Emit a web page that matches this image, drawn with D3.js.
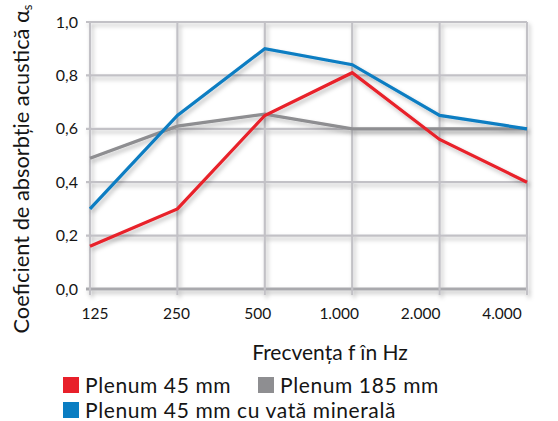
<!DOCTYPE html>
<html><head><meta charset="utf-8">
<script src="https://cdn.jsdelivr.net/npm/d3@7/dist/d3.min.js"></script>
<style>body{margin:0;background:#fff}svg{display:block}text{font-family:Lato,"Noto Sans",sans-serif;fill:#151515}</style>
</head><body>
<svg id="c" width="558" height="421"></svg>
<script>
const categories = ["125","250","500","1.000","2.000","4.000"];
const yTicks = [0,0.2,0.4,0.6,0.8,1.0];
const plenum45 = [0.16,0.30,0.65,0.81,0.56,0.40];
const plenum185 = [0.49,0.61,0.655,0.60,0.60,0.60];
const plenum45Vata = [0.30,0.65,0.90,0.84,0.65,0.60];
const seriesNames = ["Plenum 45 mm","Plenum 185 mm","Plenum 45 mm cu vată minerală"];
const colors = ["#e8202a","#8e8e91","#0a7dc2"];

const svg = d3.select("#c");
const defs = svg.append("defs");
const f = defs.append("filter").attr("id","sh").attr("x","-10%").attr("y","-10%").attr("width","130%").attr("height","140%");
f.append("feDropShadow").attr("dx",2).attr("dy",3).attr("stdDeviation",2).attr("flood-color","#000").attr("flood-opacity",0.25);

const x = d3.scalePoint().domain(categories).range([90,527]);
const xl = d3.scalePoint().domain(categories).range([95,502]);
const y = d3.scaleLinear().domain([0,1]).range([289,22]);

const grid = svg.append("g").attr("filter","url(#sh)");
grid.selectAll(".h").data(yTicks).join("line")
  .attr("x1",86).attr("x2",527).attr("y1",d=>y(d)).attr("y2",d=>y(d))
  .attr("stroke",d=>d===0?"#a9a9ad":"#c2c1c6").attr("stroke-width",d=>d===0?3:2.2);
grid.selectAll(".v").data(categories).join("line")
  .attr("x1",d=>x(d)).attr("x2",d=>x(d)).attr("y1",22).attr("y2",295)
  .attr("stroke","#c2c1c6").attr("stroke-width",2.2);

svg.append("g").selectAll("text").data(yTicks).join("text")
  .attr("x",78).attr("y",d=>y(d)).attr("dy","0.35em").attr("text-anchor","end")
  .attr("font-size",16).text(d=>d3.format(".1f")(d).replace(".",","));

svg.append("g").selectAll("text").data(categories).join("text")
  .attr("x",d=>xl(d)).attr("y",319).attr("text-anchor","middle")
  .attr("font-size",15.5).text(d=>d);

const line = d3.line().x((d,i)=>x(categories[i])).y(d=>y(d));
const data = [plenum185, plenum45, plenum45Vata];
const cols = [colors[1], colors[0], colors[2]];
svg.append("g").attr("filter","url(#sh)").selectAll("path").data(data).join("path")
  .attr("d",line).attr("fill","none").attr("stroke",(d,i)=>cols[i]).attr("stroke-width",3.2)
  .attr("stroke-linejoin","miter");

svg.append("text").attr("transform","translate(29,169) rotate(-90)").attr("text-anchor","middle")
  .attr("font-size",21.8).html('Coeficient de absorbție acustică α<tspan font-size="13" dy="3">s</tspan>');

svg.append("text").attr("x",330).attr("y",360).attr("text-anchor","middle").attr("font-size",21).text("Frecvența f în Hz");

const leg = [{n:seriesNames[0],c:colors[0],x:63,y:377},{n:seriesNames[1],c:colors[1],x:258,y:377},{n:seriesNames[2],c:colors[2],x:63,y:402}];
const lg = svg.append("g").selectAll("g").data(leg).join("g");
lg.append("rect").attr("x",d=>d.x).attr("y",d=>d.y).attr("width",16).attr("height",16).attr("fill",d=>d.c);
lg.append("text").attr("x",d=>d.x+22).attr("y",d=>d.y+15.5).attr("font-size",21).attr("letter-spacing",0.6).text(d=>d.n);
</script>
</body></html>
